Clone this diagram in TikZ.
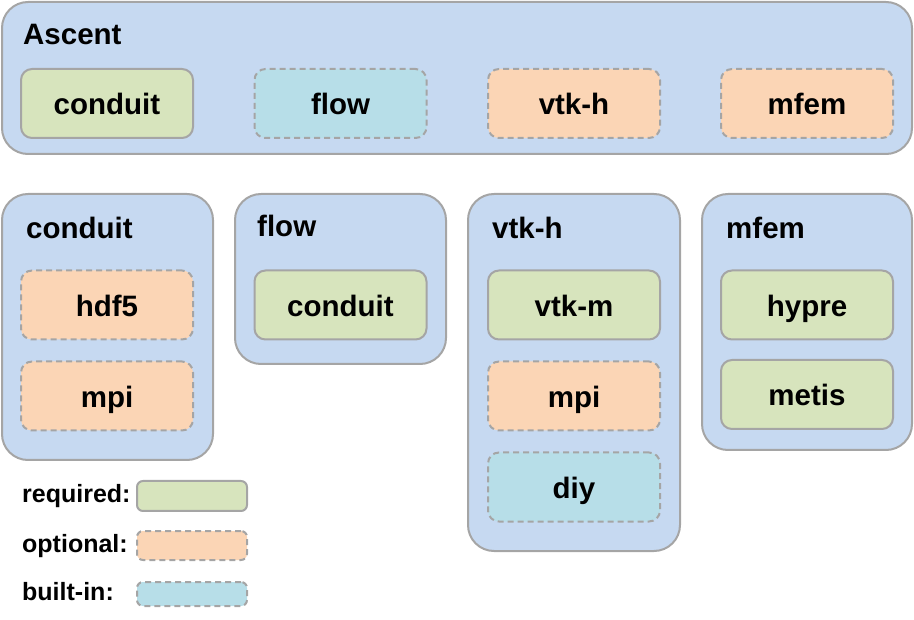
\documentclass[tikz,border=0pt]{standalone}
\usepackage{fontspec}
\setmainfont{Liberation Sans}
\usetikzlibrary{positioning}

\definecolor{panelblue}{HTML}{C6D9F1}
\definecolor{reqgreen}{HTML}{D7E4BD}
\definecolor{optorange}{HTML}{FBD5B5}
\definecolor{builtblue}{HTML}{B7DEE8}
\definecolor{edgegray}{HTML}{A5A5A5}

\begin{document}
\begin{tikzpicture}[
        x=1pt, y=-1pt,
        every node/.style={inner sep=0pt, font=\fontsize{29.5}{35}\selectfont\bfseries},
        panel/.style={draw=edgegray, line width=2pt, fill=panelblue, rounded corners=26pt},
        pkg/.style={draw=edgegray, line width=2pt, rounded corners=11pt, minimum width=172pt, minimum height=69pt,
            text height=23pt, text depth=0pt},
        reqbox/.style={pkg, fill=reqgreen},
        optbox/.style={pkg, fill=optorange, dash pattern=on 6pt off 4pt},
        bltbox/.style={pkg, fill=builtblue, dash pattern=on 6pt off 4pt},
        title/.style={anchor=base west},
        legend/.style={anchor=base west, font=\fontsize{25}{30}\selectfont\bfseries}
    ]
    \useasboundingbox (0,0) rectangle (914,620);

    % Ascent
    \node[panel, minimum width=910pt, minimum height=152pt] (asc) at (457,78) {};
    \node[title] (asc-t) at (23,45) {Ascent};
    \node[reqbox] (asc-conduit) at (107,103.5) {conduit};
    \node[bltbox] (asc-flow) at (340.5,103.5) {flow};
    \node[optbox] (asc-vtkh) at (574,103.5) {vtk-h};
    \node[optbox] (asc-mfem) at (807,103.5) {mfem};

    % conduit
    \node[panel, minimum width=211pt, minimum height=266pt] (conduit) at (107.5,327) {};
    \node[title] (conduit-t) at (26,239) {conduit};
    \node[optbox] (conduit-hdf5) at (107,305) {hdf5};
    \node[optbox] (conduit-mpi) at (107,396) {mpi};

    % flow
    \node[panel, minimum width=211pt, minimum height=170pt] (flow) at (340.5,279) {};
    \node[title] (flow-t) at (257,237) {flow};
    \node[reqbox] (flow-conduit) at (340.5,305) {conduit};

    % vtk-h
    \node[panel, minimum width=212pt, minimum height=357pt] (vtkh) at (574,372.5) {};
    \node[title] (vtkh-t) at (492,239) {vtk-h};
    \node[reqbox] (vtkh-vtkm) at (574,305) {vtk-m};
    \node[optbox] (vtkh-mpi) at (574,396) {mpi};
    \node[bltbox] (vtkh-diy) at (574,487) {diy};

    % mfem
    \node[panel, minimum width=210pt, minimum height=256pt] (mfem) at (807,322) {};
    \node[title] (mfem-t) at (726,239) {mfem};
    \node[reqbox] (mfem-hypre) at (807,305) {hypre};
    \node[reqbox] (mfem-metis) at (807,394.5) {metis};

    % Legend
    \node[legend] (req-t) at (22,503) {required:};
    \node[reqbox, minimum width=110pt, minimum height=30pt, rounded corners=6pt] (req) at (192,496) {};
    \node[legend] (opt-t) at (22,552) {optional:};
    \node[optbox, minimum width=110pt, minimum height=29pt, rounded corners=6pt] (opt) at (192,545.5) {};
    \node[legend] (blt-t) at (22,600) {built-in:};
    \node[bltbox, minimum width=110pt, minimum height=24pt, rounded corners=6pt] (blt) at (192,594) {};

\end{tikzpicture}
\end{document}
